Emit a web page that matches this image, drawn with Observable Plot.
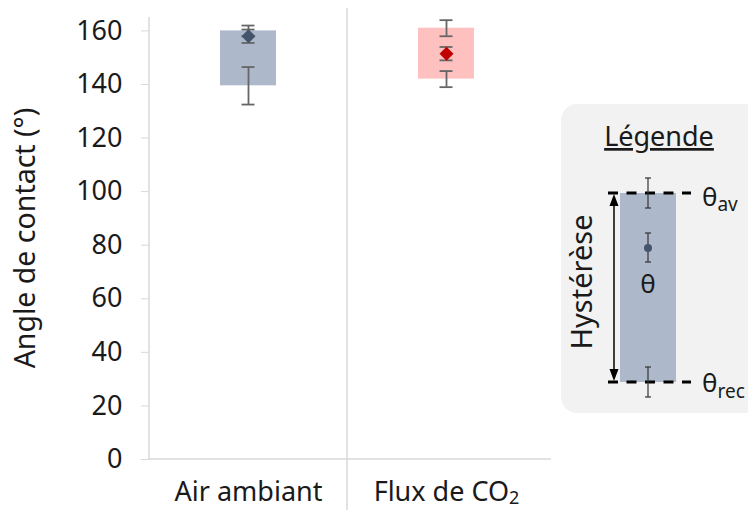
<!DOCTYPE html>
<html>
<head>
<meta charset="utf-8">
<script src="https://cdn.jsdelivr.net/npm/d3@7"></script>
<script src="https://cdn.jsdelivr.net/npm/@observablehq/plot@0.6"></script>
<style>
  html, body { margin: 0; padding: 0; background: #fff; }
  #chart { width: 748px; height: 510px; }
</style>
</head>
<body>
<div id="chart"></div>
<script>
// ---- data ----
const categories = ["Air ambiant", "Flux de CO₂"];
const advancing = [160, 161];      // θav
const advancingErr = [2, 3];
const receding = [139.5, 142];     // θrec
const recedingErr = [7, 3];
const meanAngle = [158, 151.5];    // θ
const meanErr = [2.5, 2.5];
const yTicks = [0, 20, 40, 60, 80, 100, 120, 140, 160];

// ---- styles ----
const barColors = ["#adb9ca", "#ffc0c0"];
const diamondColors = ["#44546a", "#c00000"];
const FONT = "'Noto Sans', 'Open Sans', sans-serif";
const TXT = "#1a1a1a";
const FS = 27;
const W = 748, H = 510, ML = 149, MR = 203, MT = 17, MB = 51;
const bandW = (W - ML - MR) / categories.length;
const barInset = (bandW - 56) / 2;
const capInset = (bandW - 13) / 2;

const rows = categories.map((c, i) => ({
  cat: c, adv: advancing[i], rec: receding[i], mean: meanAngle[i]
}));
const errRows = [];
categories.forEach((c, i) => {
  errRows.push({cat: c, v: advancing[i], e: advancingErr[i]});
  errRows.push({cat: c, v: meanAngle[i], e: meanErr[i]});
  errRows.push({cat: c, v: receding[i], e: recedingErr[i]});
});

const plot = Plot.plot({
  width: W, height: H,
  marginLeft: ML, marginRight: MR, marginTop: MT, marginBottom: MB,
  style: {fontFamily: FONT, fontSize: FS + "px", color: TXT, background: "transparent"},
  x: {domain: categories, padding: 0, label: null},
  y: {domain: [0, 165], label: null},
  color: {domain: categories, range: barColors},
  marks: [
    Plot.barY(rows, {x: "cat", y1: "rec", y2: "adv", fill: "cat", insetLeft: barInset, insetRight: barInset}),
    Plot.ruleX(errRows, {x: "cat", y1: d => d.v - d.e, y2: d => d.v + d.e, stroke: "#666666", strokeWidth: 1.8}),
    Plot.tickY(errRows, {x: "cat", y: d => d.v - d.e, stroke: "#666666", strokeWidth: 1.8, insetLeft: capInset, insetRight: capInset}),
    Plot.tickY(errRows, {x: "cat", y: d => d.v + d.e, stroke: "#666666", strokeWidth: 1.8, insetLeft: capInset, insetRight: capInset}),
    ...categories.map((c, i) => Plot.dot(rows.filter(r => r.cat === c), {x: "cat", y: "mean", symbol: "diamond2", r: 6.3, fill: diamondColors[i], stroke: null})),
    Plot.axisY({ticks: yTicks, tickSize: 8, tickPadding: 19, stroke: "#d9d9d9", fill: TXT, fontSize: FS, label: null}),
    Plot.axisX({tickSize: 0, tickPadding: 22, fill: TXT, fontSize: FS, label: null})
  ]
});
document.getElementById("chart").appendChild(plot);

const svg = d3.select(plot);
// real subscript for CO2 label
svg.selectAll("text").each(function() {
  if (this.textContent === categories[1] && this.childNodes.length === 1) {
    const t = d3.select(this);
    t.text(categories[1].slice(0, -1));
    t.append("tspan").attr("font-size", 18).attr("dy", 3).text("2");
  }
});
const xs = plot.scale("x"), ys = plot.scale("y");
const y0 = ys.apply(0), yTop = ys.apply(165);
// axis lines
svg.append("line").attr("x1", ML).attr("x2", ML).attr("y1", yTop).attr("y2", y0)
  .attr("stroke", "#d9d9d9").attr("stroke-width", 1.5);
svg.append("line").attr("x1", ML).attr("x2", ML + bandW * 2 + 6).attr("y1", y0).attr("y2", y0)
  .attr("stroke", "#d9d9d9").attr("stroke-width", 1.5);
// category divider
const xd = xs.apply(categories[1]);
svg.append("line").attr("x1", xd).attr("x2", xd).attr("y1", 8).attr("y2", H)
  .attr("stroke", "#d9d9d9").attr("stroke-width", 1.5);
// y-axis title
svg.append("text").attr("transform", `translate(35,${(yTop + y0) / 2}) rotate(-90)`)
  .attr("text-anchor", "middle").attr("fill", TXT).attr("font-size", 28.5)
  .attr("font-family", FONT).text("Angle de contact (°)");

// ---- legend (schematic) ----
const lg = svg.append("g").attr("font-family", FONT).attr("fill", TXT).attr("text-anchor", "start");
lg.append("rect").attr("x", 561).attr("y", 104).attr("width", 210).attr("height", 309)
  .attr("rx", 16).attr("fill", "#f2f2f2");
lg.append("text").attr("x", 659).attr("y", 146).attr("text-anchor", "middle")
  .attr("font-size", 27).attr("text-decoration", "underline").text("Légende");
lg.append("rect").attr("x", 620).attr("y", 193).attr("width", 56).attr("height", 189).attr("fill", "#adb9ca");
[193, 382].forEach(yy => lg.append("line").attr("x1", 608).attr("x2", 691).attr("y1", yy).attr("y2", yy)
  .attr("stroke", "#000").attr("stroke-width", 3).attr("stroke-dasharray", "10,8.5"));
// arrow
lg.append("line").attr("x1", 614).attr("x2", 614).attr("y1", 200).attr("y2", 375).attr("stroke", "#000").attr("stroke-width", 1.5);
lg.append("path").attr("d", "M614,194 L609.5,206 L618.5,206 Z").attr("fill", "#000");
lg.append("path").attr("d", "M614,381 L609.5,369 L618.5,369 Z").attr("fill", "#000");
// legend error bars
[[178, 208], [233, 262], [367, 397]].forEach(([a, b]) => {
  lg.append("line").attr("x1", 648).attr("x2", 648).attr("y1", a).attr("y2", b).attr("stroke", "#333").attr("stroke-width", 1.2);
  lg.append("line").attr("x1", 645).attr("x2", 651).attr("y1", a).attr("y2", a).attr("stroke", "#333").attr("stroke-width", 1.2);
  lg.append("line").attr("x1", 645).attr("x2", 651).attr("y1", b).attr("y2", b).attr("stroke", "#333").attr("stroke-width", 1.2);
});
lg.append("circle").attr("cx", 648).attr("cy", 248).attr("r", 4).attr("fill", "#44546a");
lg.append("text").attr("x", 648).attr("y", 293).attr("text-anchor", "middle").attr("font-size", 26).text("θ");
const tav = lg.append("text").attr("x", 702).attr("y", 206).attr("font-size", 26);
tav.append("tspan").text("θ");
tav.append("tspan").attr("font-size", 19).attr("dy", 5).text("av");
const trec = lg.append("text").attr("x", 702).attr("y", 392).attr("font-size", 26);
trec.append("tspan").text("θ");
trec.append("tspan").attr("font-size", 19).attr("dy", 6).text("rec");
lg.append("text").attr("transform", "translate(592,282) rotate(-90)").attr("text-anchor", "middle")
  .attr("font-size", 29).text("Hystérèse");
</script>
</body>
</html>
